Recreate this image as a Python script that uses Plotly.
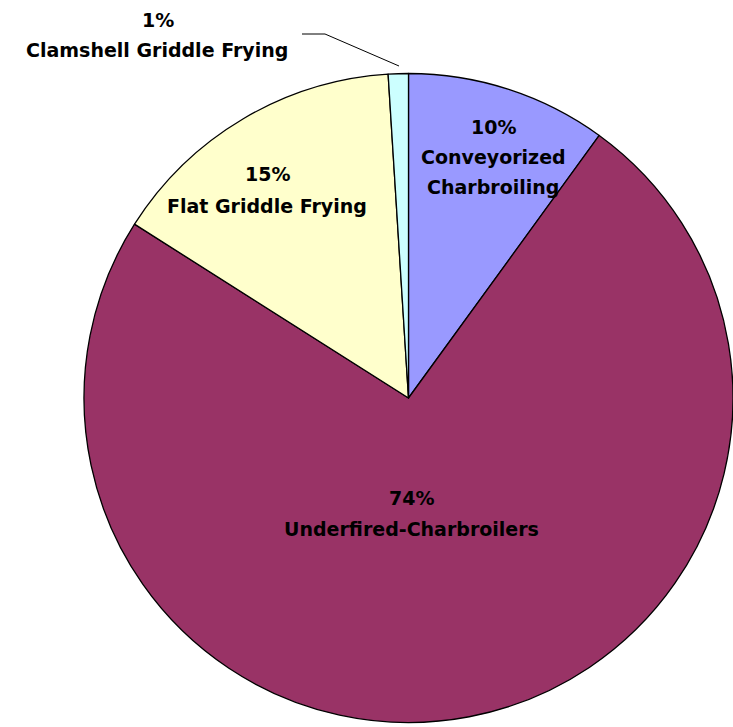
import plotly.graph_objects as go

# ---- data ----
categories = ["Conveyorized Charbroiling", "Underfired-Charbroilers",
              "Flat Griddle Frying", "Clamshell Griddle Frying"]
values = [10, 74, 15, 1]
label_lines = [["Conveyorized", "Charbroiling"], ["Underfired-Charbroilers"],
               ["Flat Griddle Frying"], ["Clamshell Griddle Frying"]]
colors = ["#9999FF", "#993366", "#FFFFCC", "#CCFFFF"]

W, H = 733, 727

# label anchor positions (pixels from top-left): percent line first, then name lines
label_pos = [
    [(493, 127), (493, 157), (493, 187)],
    [(411, 498), (411, 529)],
    [(267, 174), (267, 206)],
    [(158, 20), (157, 50)],
]

fig = go.Figure()
fig.add_trace(go.Pie(
    labels=categories,
    values=values,
    sort=False,
    direction="clockwise",
    rotation=0,
    marker=dict(colors=colors, line=dict(color="black", width=1.3)),
    textinfo="none",
    hoverinfo="label+percent",
    showlegend=False,
    domain=dict(x=[84 / W, 1.0], y=[(H - 722.5) / H, (H - 73.5) / H]),
))

font = dict(family="DejaVu Sans, Arial, sans-serif", size=19, color="#000000")
anns = []
for v, lines, pos in zip(values, label_lines, label_pos):
    texts = [f"{v}%"] + lines
    for t, (px, py) in zip(texts, pos):
        anns.append(dict(
            x=px / W, y=1 - py / H, xref="paper", yref="paper",
            text=f"<b>{t}</b>", showarrow=False, font=font,
            xanchor="center", yanchor="middle",
        ))

# leader line for the small slice
path_pts = [(302, 34), (325, 34), (399, 66)]
path = "M " + " L ".join(f"{x / W},{1 - y / H}" for x, y in path_pts)

fig.update_layout(
    width=W, height=H,
    margin=dict(l=0, r=0, t=0, b=0),
    paper_bgcolor="white", plot_bgcolor="white",
    annotations=anns,
    shapes=[dict(type="path", path=path, xref="paper", yref="paper",
                 line=dict(color="black", width=1))],
)

fig.write_html("out.html")
